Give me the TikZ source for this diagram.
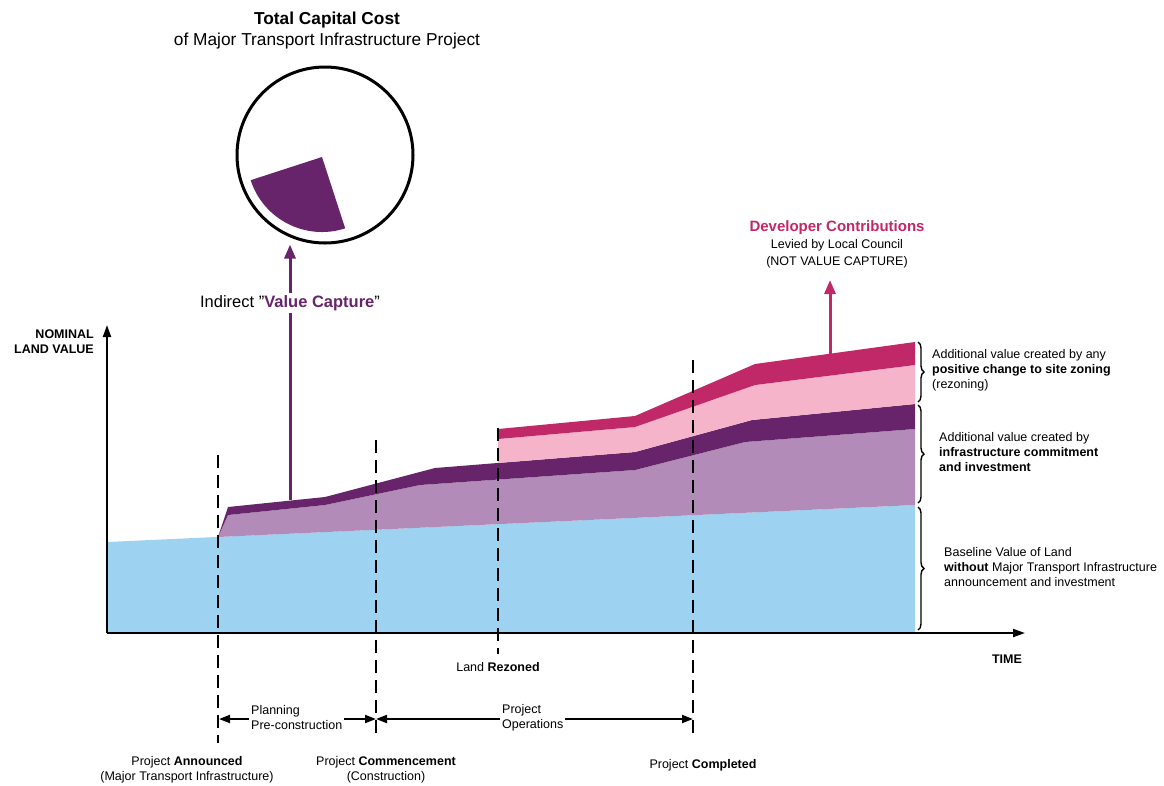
\documentclass[tikz,border=0pt]{standalone}
\usepackage{fontspec}
\setmainfont{Liberation Sans}
\usetikzlibrary{arrows.meta,decorations.pathreplacing}
\definecolor{blueland}{RGB}{157,211,241}
\definecolor{lpurple}{RGB}{178,139,184}
\definecolor{dpurple}{RGB}{104,36,106}
\definecolor{lpink}{RGB}{245,180,201}
\definecolor{dpink}{RGB}{192,40,104}
\begin{document}
\begin{tikzpicture}[x=1pt,y=-1pt,
  lbl/.style={font=\fontsize{12.5}{15}\selectfont, inner sep=1pt},
  dashv/.style={line width=2pt, dash pattern=on 13pt off 7pt},
  braceR/.style={decorate, decoration={brace,amplitude=6pt}, line width=1.4pt},
  axis/.style={line width=2pt, -{Triangle[length=12pt,width=8pt]}},
  tl/.style={line width=2pt, {Triangle[length=11pt,width=8pt]}-{Triangle[length=11pt,width=8pt]}},
  bigarrow/.style={line width=3pt, -{Triangle[length=14pt,width=11pt]}}]
\useasboundingbox (0,0) rectangle (1164,785);

% ---- title and circle
\node[font=\fontsize{17.3}{21}\selectfont, align=center, inner sep=0] (title) at (327,31)
  {\textbf{Total Capital Cost}\\of Major Transport Infrastructure Project};
\node[circle, draw, line width=3pt, minimum size=176pt, inner sep=0] (circ) at (325,155) {};
\fill[dpurple] (322,157) -- ++(162:75) arc[start angle=162, end angle=72, radius=75] -- cycle;

% ---- areas
\fill[blueland] (107,542) -- (915,505) -- (915,633) -- (107,633) -- cycle;
\fill[lpurple] (218,537) -- (228,515) -- (325,505) -- (420,485) -- (635,470) -- (745,442) -- (915,429) -- (915,505) -- cycle;
\fill[dpurple] (218,537) -- (228,507) -- (325,497) -- (435,468) -- (635,452) -- (752,420) -- (915,404)
  -- (915,429) -- (745,442) -- (635,470) -- (420,485) -- (325,505) -- (228,515) -- cycle;
\fill[lpink] (498,463) -- (635,452) -- (752,420) -- (915,404) -- (915,365) -- (755,385) -- (635,427) -- (498,439) -- cycle;
\fill[dpink] (498,439) -- (635,427) -- (755,385) -- (915,365) -- (915,342) -- (755,364) -- (635,416) -- (498,429) -- cycle;

% ---- axes
\coordinate (origin) at (107,633);
\coordinate (ytop) at (107,325);
\coordinate (xend) at (1025,633);
\draw[axis] (origin) -- (ytop);
\draw[axis] (origin) -- (xend);
\node[lbl, font=\fontsize{12.5}{15}\selectfont\bfseries, align=right, anchor=east] (ylab) at (95,342) {NOMINAL\\LAND VALUE};
\node[lbl, font=\fontsize{12.5}{15}\selectfont\bfseries] (xlab) at (1007,659) {TIME};

% ---- dashed milestone lines
\coordinate (dA1) at (218,455); \coordinate (dA2) at (218,743);
\coordinate (dC1) at (376,440); \coordinate (dC2) at (376,738);
\coordinate (dR1) at (498,428); \coordinate (dR2) at (498,654);
\coordinate (dE1) at (693,360); \coordinate (dE2) at (693,738);
\draw[dashv] (dA1) -- (dA2);
\draw[dashv] (dC1) -- (dC2);
\draw[dashv] (dR1) -- (dR2);
\draw[dashv] (dE1) -- (dE2);

% ---- value capture arrow
\coordinate (vcb) at (290,500);
\draw[bigarrow, dpurple] (vcb) -- (vcb |- circ.south);
\node[font=\fontsize{16.5}{20}\selectfont, fill=white, inner sep=2pt] (vc) at (290,303)
  {Indirect "\textcolor{dpurple}{\textbf{Value Capture}}"};

% ---- developer contributions
\coordinate (dcb) at (830,356);
\coordinate (dct) at (830,280);
\draw[bigarrow, dpink] (dcb) -- (dct);
\node[font=\fontsize{15}{18}\selectfont\bfseries, text=dpink, inner sep=0] (dev) at (837,228) {Developer Contributions};
\node[lbl] (levied) at (837,245) {Levied by Local Council};
\node[lbl] (notvc) at (837,262) {(NOT VALUE CAPTURE)};

% ---- braces and right labels
\coordinate (b1t) at (918,342); \coordinate (b1b) at (918,402);
\coordinate (b2t) at (918,405); \coordinate (b2b) at (918,503);
\coordinate (b3t) at (918,507); \coordinate (b3b) at (918,630);
\draw[braceR] (b1t) -- (b1b);
\draw[braceR] (b2t) -- (b2b);
\draw[braceR] (b3t) -- (b3b);
\node[lbl, align=left, anchor=west] (r1) at (931,370)
  {Additional value created by any\\\textbf{positive change to site zoning}\\(rezoning)};
\node[lbl, align=left, anchor=west] (r2) at (938,452)
  {Additional value created by\\\textbf{infrastructure commitment}\\\textbf{and investment}};
\node[lbl, align=left, anchor=west] (r3) at (943,567)
  {Baseline Value of Land\\\textbf{without} Major Transport Infrastructure\\announcement and investment};

% ---- timeline
\coordinate (tA) at (219,719);
\coordinate (tC) at (376,719);
\coordinate (tE) at (693,719);
\draw[tl] (tA) -- (tC);
\draw[tl] (tC) -- (tE);
\node[lbl, align=left, anchor=west, fill=white, inner sep=2pt] (plan) at (249,718) {Planning\\Pre-construction};
\node[lbl, align=left, anchor=west, fill=white, inner sep=2pt] (ops) at (500,718) {Project\\Operations};

% ---- bottom labels
\node[lbl] (rez) at (498,667) {Land \textbf{Rezoned}};
\node[lbl, align=center] (ann) at (187,770) {Project \textbf{Announced}\\(Major Transport Infrastructure)};
\node[lbl, align=center] (com) at (386,770) {Project \textbf{Commencement}\\(Construction)};
\node[lbl] (cpl) at (703,765) {Project \textbf{Completed}};
\end{tikzpicture}
\end{document}
